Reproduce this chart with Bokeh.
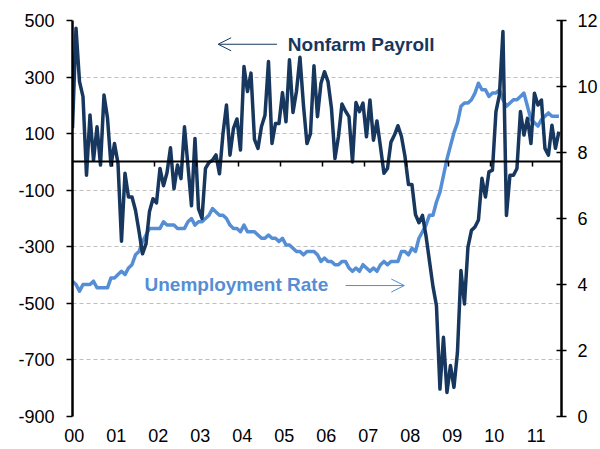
from bokeh.plotting import figure
from bokeh.models import (Range1d, LinearAxis, FixedTicker, Label, Arrow,
                          OpenHead, ColumnDataSource)
from bokeh.embed import file_html
from bokeh.resources import INLINE

# ---------------- data (monthly) ----------------
first_year = 2000
payroll_2000 = [119, 473, 284, 231, -47, 166, 6, 124, -11, 237, 155]
payroll_2001 = [-12, 65, -5, -280, -40, -124, -124, -171, -245, -325, -290, -175]
payroll_2002 = [-130, -145, -23, -84, -38, 50, -95, -11, -59, 124, -15, -155]
payroll_2003 = [83, -165, -200, -23, -2, 6, 25, -42, 100, 201, 24, 119]
payroll_2004 = [152, 42, 337, 249, 314, 80, 48, 125, 165, 355, 65, 136]
payroll_2005 = [136, 245, 142, 361, 175, 250, 370, 200, 65, 100, 340, 160]
payroll_2006 = [278, 319, 285, 190, 12, 90, 205, 180, 160, 0, 210, 178]
payroll_2007 = [208, 89, 219, 77, 145, 54, -40, -23, 70, 95, 128, 90]
payroll_2008 = [20, -80, -80, -186, -215, -189, -260, -350, -440, -508, -803, -620]
payroll_2009 = [-815, -720, -797, -673, -384, -502, -301, -242, -230, -205, -58, -124]
payroll_2010 = [-35, -29, 178, 237, 461, -189, -47, -47, -23, 178, 95, 154]
payroll_2011 = [65, 243, 201, 219, 48, 24, 130, 48, 107]

unemp_2000 = [4.1, 4.0, 3.8, 4.0, 4.0, 4.0, 4.1, 3.9, 3.9, 3.9, 3.9]
unemp_2001 = [4.2, 4.2, 4.3, 4.4, 4.3, 4.5, 4.6, 4.9, 5.0, 5.3, 5.5, 5.7]
unemp_2002 = [5.7, 5.7, 5.7, 5.9, 5.8, 5.8, 5.8, 5.7, 5.7, 5.7, 5.9, 6.0]
unemp_2003 = [5.8, 5.9, 5.9, 6.0, 6.1, 6.3, 6.2, 6.1, 6.1, 6.0, 5.8, 5.7]
unemp_2004 = [5.7, 5.6, 5.8, 5.6, 5.6, 5.6, 5.5, 5.4, 5.4, 5.5, 5.4, 5.4]
unemp_2005 = [5.3, 5.4, 5.2, 5.2, 5.1, 5.0, 5.0, 4.9, 5.0, 5.0, 5.0, 4.9]
unemp_2006 = [4.7, 4.8, 4.7, 4.7, 4.6, 4.6, 4.7, 4.7, 4.5, 4.4, 4.5, 4.4]
unemp_2007 = [4.6, 4.5, 4.4, 4.5, 4.4, 4.6, 4.7, 4.6, 4.7, 4.7, 4.7, 5.0]
unemp_2008 = [5.0, 4.9, 5.1, 5.0, 5.4, 5.6, 5.8, 6.1, 6.1, 6.5, 6.8, 7.3]
unemp_2009 = [7.8, 8.2, 8.6, 8.9, 9.4, 9.5, 9.5, 9.6, 9.8, 10.1, 9.9, 9.9]
unemp_2010 = [9.7, 9.8, 9.8, 9.9, 9.6, 9.4, 9.5, 9.6, 9.6, 9.7, 9.8, 9.4]
unemp_2011 = [9.0, 8.9, 8.8, 9.0, 9.1, 9.2, 9.1, 9.1, 9.1]

years = list(range(2000, 2012))
year_labels = ["00", "01", "02", "03", "04", "05", "06", "07", "08", "09", "10", "11"]
left_ticks = [-900, -700, -500, -300, -100, 100, 300, 500]
left_labels = ["-900", "-700", "-500", "-300", "-100", "100", "300", "500"]
right_ticks = [0, 2, 4, 6, 8, 10, 12]

payroll = (payroll_2000 + payroll_2001 + payroll_2002 + payroll_2003 + payroll_2004 +
           payroll_2005 + payroll_2006 + payroll_2007 + payroll_2008 + payroll_2009 +
           payroll_2010 + payroll_2011)
unemp = (unemp_2000 + unemp_2001 + unemp_2002 + unemp_2003 + unemp_2004 + unemp_2005 +
         unemp_2006 + unemp_2007 + unemp_2008 + unemp_2009 + unemp_2010 + unemp_2011)
xs = [first_year + (k + 0.5) / 12.0 for k in range(len(payroll))]
src = ColumnDataSource(dict(x=xs, payroll=payroll, unemp=unemp))

NAVY = "#17375E"
LIGHT = "#558ED5"
FONT = "Liberation Sans"

x0 = xs[0]
x1 = 2011.686
p = figure(width=600, height=449, x_range=Range1d(x0, x1), y_range=Range1d(-900, 500),
           output_backend="svg", toolbar_location=None,
           min_border_left=72, min_border_right=37, min_border_top=20, min_border_bottom=33,
           x_axis_location=None, y_axis_location=None)
p.extra_y_ranges = {"ur": Range1d(0, 12)}
p.extra_x_ranges = {"lab": Range1d(x0 - 1 / 12.0, x1 - 1 / 12.0)}
p.outline_line_color = None
p.background_fill_color = "white"
p.border_fill_color = "white"

# left axis
ly = LinearAxis(ticker=FixedTicker(ticks=left_ticks),
                major_label_overrides={t: s for t, s in zip(left_ticks, left_labels)})
# right axis
ry = LinearAxis(y_range_name="ur", ticker=FixedTicker(ticks=right_ticks))
for ax in (ly, ry):
    ax.axis_line_color = "black"
    ax.axis_line_width = 2.5
    ax.major_tick_line_color = "black"
    ax.major_tick_line_width = 1.5
    ax.minor_tick_line_color = None
    ax.major_label_text_font = FONT
    ax.major_label_text_font_size = "18px"
    ax.major_label_text_color = "black"
ly.major_tick_out = 6
ly.major_tick_in = 0
ly.major_label_standoff = 12
ry.major_tick_out = 5
ry.major_tick_in = 5
ry.major_label_standoff = 11
p.add_layout(ly, "left")
p.add_layout(ry, "right")

# bottom labels
bx = LinearAxis(x_range_name="lab", ticker=FixedTicker(ticks=years),
                major_label_overrides={y: s for y, s in zip(years, year_labels)})
bx.axis_line_color = None
bx.major_tick_line_color = None
bx.minor_tick_line_color = None
bx.major_tick_out = 0
bx.major_tick_in = 0
bx.major_label_standoff = 12
bx.major_label_text_font = FONT
bx.major_label_text_font_size = "18px"
bx.major_label_text_color = "black"
p.add_layout(bx, "below")

# zero line axis with year ticks
zx = LinearAxis(ticker=FixedTicker(ticks=years), fixed_location=0)
zx.axis_line_color = "black"
zx.axis_line_width = 2
zx.major_tick_line_color = "black"
zx.major_tick_line_width = 1.5
zx.major_tick_out = 5
zx.major_tick_in = 0
zx.minor_tick_line_color = None
zx.major_label_text_font_size = "0px"
zx.major_label_text_alpha = 0
p.add_layout(zx, "below")

# grid
p.ygrid.ticker = FixedTicker(ticks=left_ticks)
p.ygrid.grid_line_color = "#BFBFBF"
p.ygrid.grid_line_dash = "4 3"
p.ygrid.grid_line_width = 1
p.xgrid.grid_line_color = None

# lines
p.line("x", "unemp", source=src, y_range_name="ur", line_color=LIGHT, line_width=3.5,
       line_join="round")
p.line("x", "payroll", source=src, line_color=NAVY, line_width=3.5, line_join="round")

# annotations
p.add_layout(Label(x=2005.17, y=414, text="Nonfarm Payroll", text_color=NAVY,
                   text_font=FONT, text_font_size="19px", text_font_style="bold",
                   text_baseline="middle", text_align="left"))
p.add_layout(Arrow(x_start=2004.91, y_start=416, x_end=2003.51, y_end=416,
                   line_color=NAVY, line_width=1,
                   end=OpenHead(size=13, line_color=NAVY, line_width=1)))
p.add_layout(Label(x=2001.756, y=-435, text="Unemployment Rate", text_color=LIGHT,
                   text_font=FONT, text_font_size="19px", text_font_style="bold",
                   text_baseline="middle", text_align="left"))
p.add_layout(Arrow(x_start=2006.544, y_start=-437, x_end=2007.943, y_end=-437,
                   line_color=LIGHT, line_width=1,
                   end=OpenHead(size=13, line_color=LIGHT, line_width=1)))

open("out.html", "w").write(file_html(p, INLINE))
